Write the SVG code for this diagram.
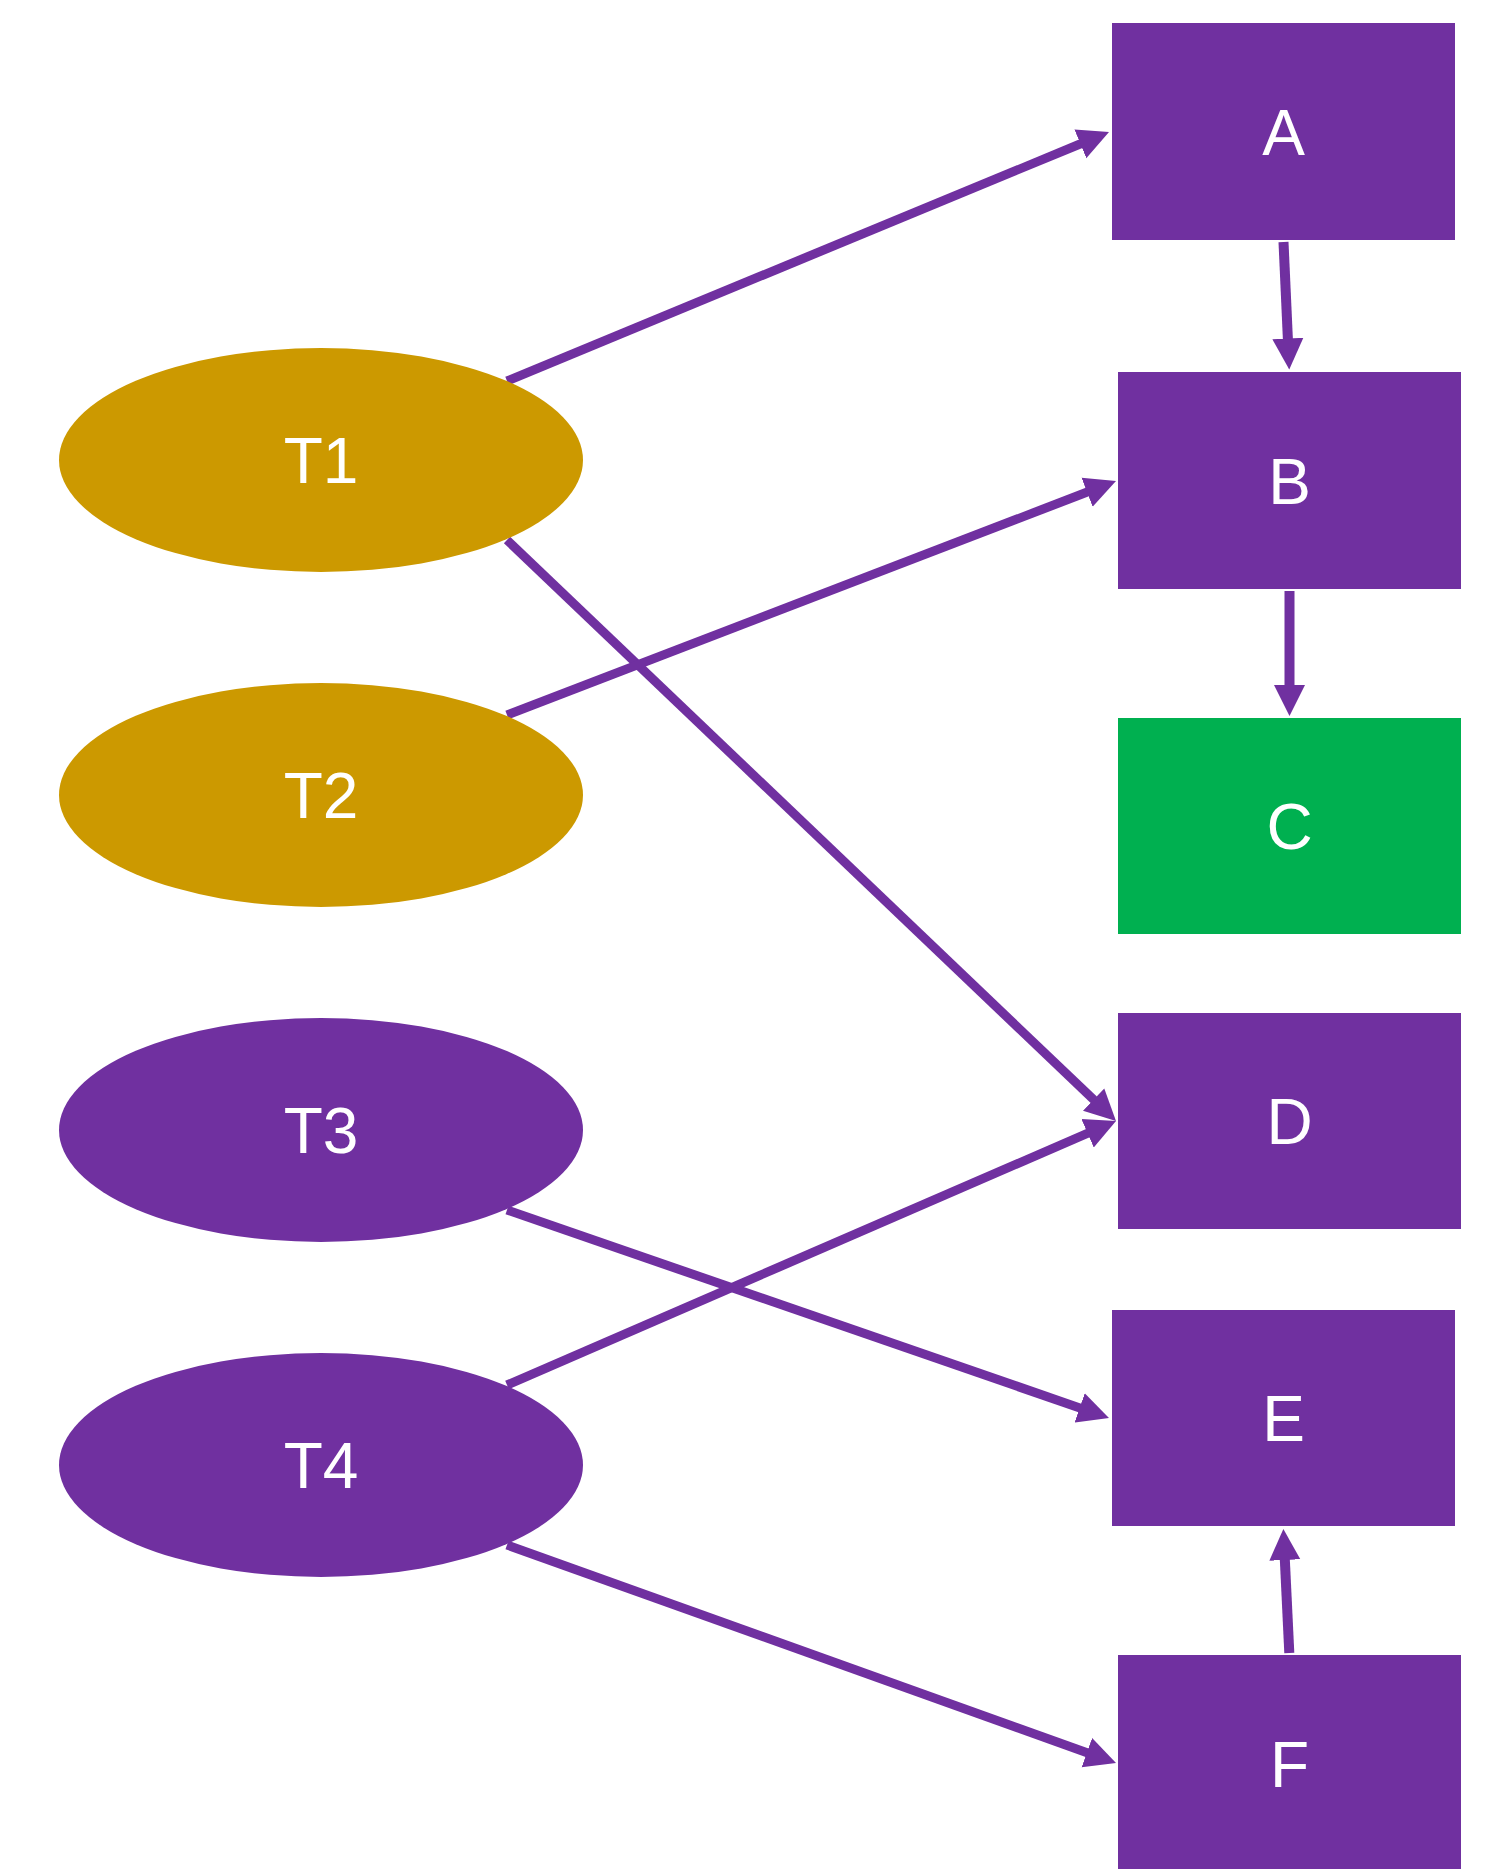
<svg xmlns="http://www.w3.org/2000/svg" width="1506" height="1869" viewBox="0 0 1506 1869">
<style>
.bg{fill:#ffffff}
.box{fill:#7030A0;stroke:none}
.green{fill:#00B050}
.gold{fill:#CC9900}
.task{fill:#7030A0}
.lbl{font-family:"Liberation Sans",Arial,sans-serif;font-size:64px;fill:#ffffff;text-anchor:middle}
.edge{stroke:#7030A0;stroke-width:9;fill:none;stroke-linecap:butt}
.vedge{stroke:#7030A0;stroke-width:10;fill:none;stroke-linecap:butt}
</style>
<defs>
<marker id="arr" markerUnits="userSpaceOnUse" markerWidth="32" markerHeight="32" viewBox="0 0 32 32" refX="1" refY="16" orient="auto">
<path d="M0,0.5 L31,16 L0,31.5 Z" fill="#7030A0"/>
</marker>
</defs>
<rect class="bg" x="0" y="0" width="1506" height="1869"/>
<g id="connectors">
<line class="edge" x1="507" y1="381" x2="1081.3" y2="143.5" marker-end="url(#arr)"/>
<line class="edge" x1="507" y1="540" x2="1094.3" y2="1100.3" marker-end="url(#arr)"/>
<line class="edge" x1="507" y1="715" x2="1088" y2="491.8" marker-end="url(#arr)"/>
<line class="edge" x1="507" y1="1210" x2="1080.6" y2="1408.2" marker-end="url(#arr)"/>
<line class="edge" x1="507" y1="1385" x2="1088.5" y2="1132.9" marker-end="url(#arr)"/>
<line class="edge" x1="507" y1="1545" x2="1087.8" y2="1752.9" marker-end="url(#arr)"/>
<line class="vedge" x1="1283.5" y1="242" x2="1287.9" y2="339.5" marker-end="url(#arr)"/>
<line class="vedge" x1="1289.5" y1="591" x2="1289.5" y2="686" marker-end="url(#arr)"/>
<line class="vedge" x1="1289.3" y1="1653" x2="1284.8" y2="1559" marker-end="url(#arr)"/>
</g>
<g id="T1"><ellipse class="gold" cx="321" cy="460" rx="262" ry="112"/><text class="lbl" x="321" y="483">T1</text></g>
<g id="T2"><ellipse class="gold" cx="321" cy="795" rx="262" ry="112"/><text class="lbl" x="321" y="818">T2</text></g>
<g id="T3"><ellipse class="task" cx="321" cy="1130" rx="262" ry="112"/><text class="lbl" x="321" y="1153">T3</text></g>
<g id="T4"><ellipse class="task" cx="321" cy="1465" rx="262" ry="112"/><text class="lbl" x="321" y="1488">T4</text></g>
<g id="A"><rect class="box" x="1112" y="23" width="343" height="217"/><text class="lbl" x="1283.5" y="155">A</text></g>
<g id="B"><rect class="box" x="1118" y="372" width="343" height="217"/><text class="lbl" x="1289.5" y="504">B</text></g>
<g id="C"><rect class="box green" x="1118" y="718" width="343" height="216"/><text class="lbl" x="1289.5" y="849">C</text></g>
<g id="D"><rect class="box" x="1118" y="1013" width="343" height="216"/><text class="lbl" x="1289.5" y="1144">D</text></g>
<g id="E"><rect class="box" x="1112" y="1310" width="343" height="216"/><text class="lbl" x="1283.5" y="1441">E</text></g>
<g id="F"><rect class="box" x="1118" y="1655" width="343" height="216"/><text class="lbl" x="1289.5" y="1787">F</text></g>
</svg>
